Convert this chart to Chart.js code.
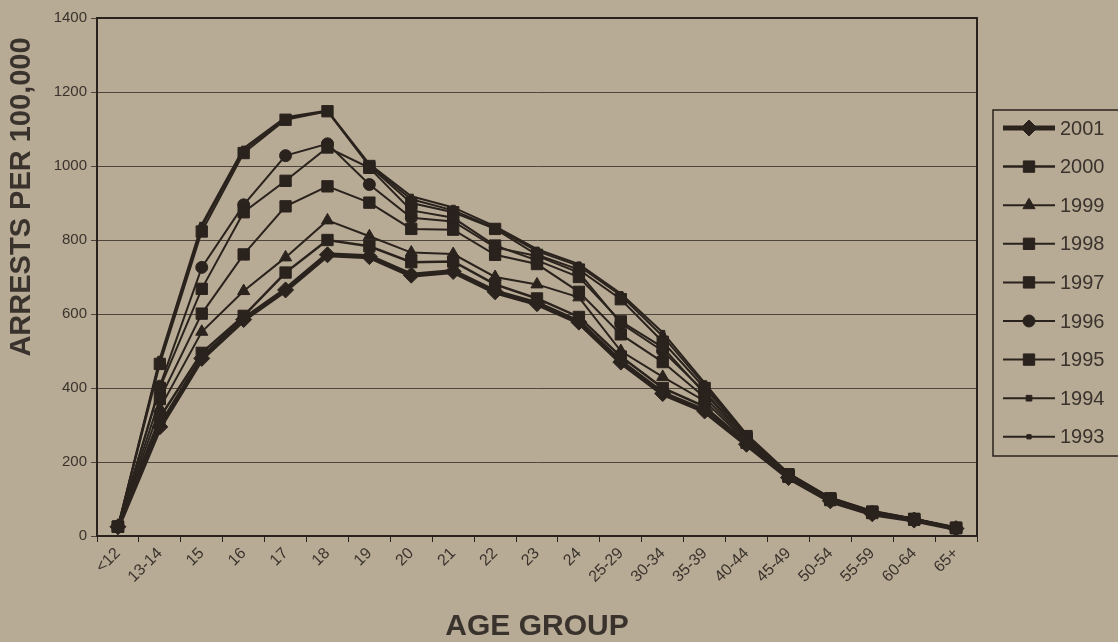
<!DOCTYPE html>
<html>
<head>
<meta charset="utf-8">
<script src="https://cdn.jsdelivr.net/npm/chart.js@4/dist/chart.umd.min.js"></script>
<style>
  html, body { margin: 0; padding: 0; background: #b8ab95; }
  #wrap { width: 1118px; height: 642px; position: relative; }
</style>
</head>
<body>
<div id="wrap"><canvas id="myChart" width="1118" height="642"></canvas></div>
<script>
// age groups along the x axis
const ageGroups = ['<12', '13-14', '15', '16', '17', '18', '19', '20', '21', '22', '23', '24',
    '25-29', '30-34', '35-39', '40-44', '45-49', '50-54', '55-59', '60-64', '65+'];

// legend order, top to bottom
const years = ['2001', '2000', '1999', '1998', '1997', '1996', '1995', '1994', '1993'];

// arrests per 100,000
const arrests2001 = [25, 295, 480, 585, 665, 760, 755, 705, 715, 660, 628, 578, 470, 385, 338, 248, 158, 95, 60, 43, 20];
const arrests2000 = [25, 320, 495, 595, 712, 800, 783, 740, 742, 680, 642, 592, 485, 400, 350, 252, 160, 97, 62, 44, 21];
const arrests1999 = [25, 345, 552, 662, 753, 853, 810, 766, 762, 700, 680, 645, 500, 430, 365, 256, 162, 98, 63, 45, 21];
const arrests1998 = [25, 370, 601, 761, 891, 945, 901, 830, 828, 760, 735, 660, 545, 470, 375, 260, 163, 99, 64, 45, 22];
const arrests1997 = [25, 400, 668, 875, 960, 1050, 995, 880, 860, 785, 745, 700, 580, 510, 385, 265, 165, 100, 65, 46, 22];
const arrests1996 = [25, 405, 726, 895, 1028, 1060, 950, 860, 850, 780, 757, 712, 575, 500, 390, 266, 165, 100, 65, 46, 22];
const arrests1995 = [25, 465, 823, 1035, 1125, 1148, 1000, 900, 875, 830, 760, 720, 640, 525, 400, 270, 167, 102, 66, 46, 22];
const arrests1994 = [25, 475, 835, 1042, 1128, 1148, 1002, 910, 880, 833, 770, 730, 650, 540, 408, 272, 168, 103, 67, 47, 22];
const arrests1993 = [25, 480, 842, 1048, 1132, 1150, 1005, 918, 888, 837, 775, 735, 655, 550, 414, 275, 170, 104, 68, 47, 22];

const yTicks = [0, 200, 400, 600, 800, 1000, 1200, 1400];

const seriesData = [arrests2001, arrests2000, arrests1999, arrests1998, arrests1997,
    arrests1996, arrests1995, arrests1994, arrests1993];

// marker look for each year
const markerStyle = ['rectRot', 'rect', 'triangle', 'rect', 'rect', 'circle', 'rect', 'rect', 'rect'];
const markerSize = [8, 8, 7, 8, 8, 6, 8, 4, 3];
const lineWidths = [5, 2.5, 2, 2, 2, 2, 2, 2, 2];

const ink = '#2a221d';
const gridInk = '#4d443b';
const textInk = '#3a332d';
const fontFamily = 'Arial, "Liberation Sans", Helvetica, sans-serif';

let datasets = [];
for (let i = 0; i < years.length; i++) {
    datasets.push({
        label: years[i],
        data: seriesData[i],
        borderColor: ink,
        backgroundColor: ink,
        borderWidth: lineWidths[i],
        pointStyle: markerStyle[i],
        pointRadius: markerSize[i],
        pointHoverRadius: markerSize[i],
        pointBackgroundColor: ink,
        pointBorderColor: ink,
        pointBorderWidth: 1,
        tension: 0
    });
}

function drawMarker(ctx, style, x, y, r) {
    if (Chart.helpers && Chart.helpers.drawPoint) {
        Chart.helpers.drawPoint(ctx, { pointStyle: style, radius: r, borderWidth: 1, rotation: 0 }, x, y);
        return;
    }
    ctx.beginPath();
    if (style === 'circle') {
        ctx.arc(x, y, r, 0, Math.PI * 2);
    } else if (style === 'triangle') {
        ctx.moveTo(x, y - r);
        ctx.lineTo(x + r, y + r * 0.8);
        ctx.lineTo(x - r, y + r * 0.8);
        ctx.closePath();
    } else if (style === 'rectRot') {
        ctx.moveTo(x, y - r);
        ctx.lineTo(x + r, y);
        ctx.lineTo(x, y + r);
        ctx.lineTo(x - r, y);
        ctx.closePath();
    } else {
        const s = r * Math.SQRT1_2;
        ctx.rect(x - s, y - s, 2 * s, 2 * s);
    }
    ctx.fill();
    ctx.stroke();
}

// plot frame, y title and the line-and-marker legend box
const decorPlugin = {
    id: 'decor',
    beforeDatasetsDraw(chart) {
        const ctx = chart.ctx;
        const a = chart.chartArea;
        ctx.save();
        ctx.strokeStyle = ink;
        ctx.lineWidth = 2;
        ctx.strokeRect(a.left, a.top, a.right - a.left, a.bottom - a.top);
        ctx.restore();
    },
    afterDraw(chart) {
        const ctx = chart.ctx;
        ctx.save();
        // y axis title
        ctx.translate(22, 197);
        ctx.rotate(-Math.PI / 2);
        ctx.fillStyle = textInk;
        ctx.font = 'bold 29px ' + fontFamily;
        ctx.textAlign = 'center';
        ctx.textBaseline = 'middle';
        ctx.fillText('ARRESTS PER 100,000', 0, 0);
        ctx.restore();

        // legend
        ctx.save();
        ctx.strokeStyle = ink;
        ctx.lineWidth = 1.5;
        ctx.strokeRect(993, 110, 140, 346);
        const ds = chart.data.datasets;
        for (let i = 0; i < ds.length; i++) {
            const y = 128 + i * 38.6;
            ctx.strokeStyle = ink;
            ctx.fillStyle = ink;
            ctx.lineWidth = ds[i].borderWidth;
            ctx.beginPath();
            ctx.moveTo(1003, y);
            ctx.lineTo(1055, y);
            ctx.stroke();
            ctx.lineWidth = 1;
            drawMarker(ctx, ds[i].pointStyle, 1029, y, ds[i].pointRadius);
            ctx.fillStyle = textInk;
            ctx.font = '20px ' + fontFamily;
            ctx.textAlign = 'left';
            ctx.textBaseline = 'middle';
            ctx.fillText(ds[i].label, 1060, y + 1);
        }
        ctx.restore();
    }
};

const ctx = document.getElementById('myChart').getContext('2d');
const myChart = new Chart(ctx, {
    type: 'line',
    data: {
        labels: ageGroups,
        datasets: datasets
    },
    options: {
        responsive: false,
        animation: false,
        events: [],
        layout: {
            padding: { left: 0, right: 141, top: 18, bottom: 0 }
        },
        plugins: {
            legend: { display: false },
            tooltip: { enabled: false }
        },
        scales: {
            x: {
                type: 'category',
                offset: true,
                afterFit: function (scale) { scale.height = 106; },
                grid: {
                    display: true,
                    drawOnChartArea: false,
                    drawTicks: true,
                    tickLength: 6,
                    offset: true,
                    color: ink
                },
                border: { color: ink, width: 2 },
                ticks: {
                    autoSkip: false,
                    minRotation: 45,
                    maxRotation: 45,
                    padding: 2,
                    color: textInk,
                    font: { family: fontFamily, size: 16 }
                },
                title: {
                    display: true,
                    text: 'AGE GROUP',
                    color: textInk,
                    font: { family: fontFamily, size: 30, weight: 'bold', lineHeight: 1 },
                    padding: { top: 0, bottom: 0 }
                }
            },
            y: {
                min: 0,
                max: 1400,
                afterFit: function (scale) { scale.width = 97; },
                afterBuildTicks: function (scale) {
                    scale.ticks = yTicks.map(v => ({ value: v }));
                },
                grid: {
                    color: gridInk,
                    lineWidth: 1,
                    tickLength: 6
                },
                border: { color: ink, width: 2 },
                ticks: {
                    padding: 4,
                    color: textInk,
                    font: { family: fontFamily, size: 15 },
                    callback: function (value) { return String(value); }
                }
            }
        }
    },
    plugins: [decorPlugin]
});
</script>
</body>
</html>
